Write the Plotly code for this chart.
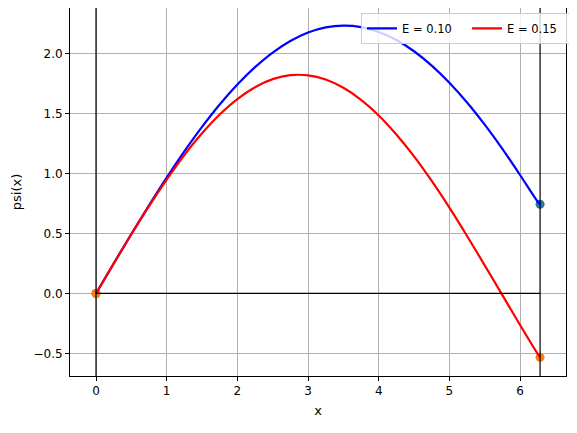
import plotly.graph_objects as go

# x samples (0 .. 2*pi)
x_vals = [0.0, 0.25, 0.5, 0.75, 1.0, 1.25, 1.5, 1.75, 2.0, 2.25, 2.5, 2.75, 3.0, 3.25,
          3.5, 3.75, 4.0, 4.25, 4.5, 4.75, 5.0, 5.25, 5.5, 5.75, 6.0, 6.25, 6.2832]
# psi(x)
psi_e010 = [0.0, 0.250, 0.496, 0.736, 0.967, 1.186, 1.390, 1.577, 1.744, 1.889, 2.011, 2.107, 2.178, 2.221,
            2.236, 2.224, 2.183, 2.116, 2.022, 1.902, 1.759, 1.594, 1.409, 1.207, 0.989, 0.765, 0.745]
psi_e015 = [0.0, 0.249, 0.494, 0.729, 0.951, 1.155, 1.337, 1.494, 1.623, 1.722, 1.789, 1.822, 1.821, 1.786,
            1.717, 1.617, 1.486, 1.327, 1.144, 0.939, 0.716, 0.480, 0.235, -0.014, -0.263, -0.505, -0.533]
labels = ["E = 0.10", "E = 0.15"]
line_colors = ["#0000ff", "#ff0000"]
marker_colors = ["#1f77b4", "#ff7f0e"]
# boundary points
bx = [0.0, 6.2832]
b_e010 = [0.0, 0.745]
b_e015 = [0.0, -0.533]
vlines = [0.0, 6.2832]
hline_y = 0.0

fig = go.Figure()
for by, mc in [(b_e010, marker_colors[0]), (b_e015, marker_colors[1])]:
    fig.add_trace(go.Scatter(x=bx, y=by, mode="markers", showlegend=False,
                             marker=dict(color=mc, size=9, line=dict(width=0))))
for ys, lab, lc in [(psi_e010, labels[0], line_colors[0]), (psi_e015, labels[1], line_colors[1])]:
    fig.add_trace(go.Scatter(x=x_vals, y=ys, mode="lines", name=lab,
                             line=dict(color=lc, width=2.2, shape="spline", smoothing=0.8)))

for v in vlines:
    fig.add_shape(type="line", xref="x", yref="paper", x0=v, x1=v, y0=0, y1=1,
                  line=dict(color="black", width=1.2), layer="above")
fig.add_shape(type="line", xref="x", yref="y", x0=vlines[0], x1=vlines[1], y0=hline_y, y1=hline_y,
              line=dict(color="black", width=1.2), layer="above")

axis_common = dict(showline=True, linecolor="black", linewidth=1, mirror=True,
                   ticks="outside", ticklen=4, tickcolor="black", showgrid=True,
                   gridcolor="#b0b0b0", gridwidth=0.8, zeroline=False, automargin=False,
                   tickfont=dict(size=12, color="black"))
fig.update_xaxes(range=[-0.368, 6.65], tickvals=[0, 1, 2, 3, 4, 5, 6],
                 title=dict(text="x", font=dict(size=13, color="black"), standoff=8), **axis_common)
fig.update_yaxes(range=[-0.689, 2.383], tickvals=[-0.5, 0, 0.5, 1.0, 1.5, 2.0],
                 ticktext=["\u22120.5", "0.0", "0.5", "1.0", "1.5", "2.0"],
                 title=dict(text="psi(x)", font=dict(size=13, color="black"), standoff=8), **axis_common)

fig.update_layout(
    width=569, height=426,
    margin=dict(l=62, r=11, t=0, b=58, autoexpand=False),
    plot_bgcolor="white", paper_bgcolor="white",
    font=dict(family="DejaVu Sans", color="black"),
    legend=dict(orientation="h", x=0.5867, xanchor="left", y=0.987, yanchor="top",
                bgcolor="rgba(255,255,255,0.8)", bordercolor="#cccccc", borderwidth=1,
                font=dict(size=11.5), itemwidth=30, entrywidth=60, tracegroupgap=0),
)
fig.write_html("out.html")
